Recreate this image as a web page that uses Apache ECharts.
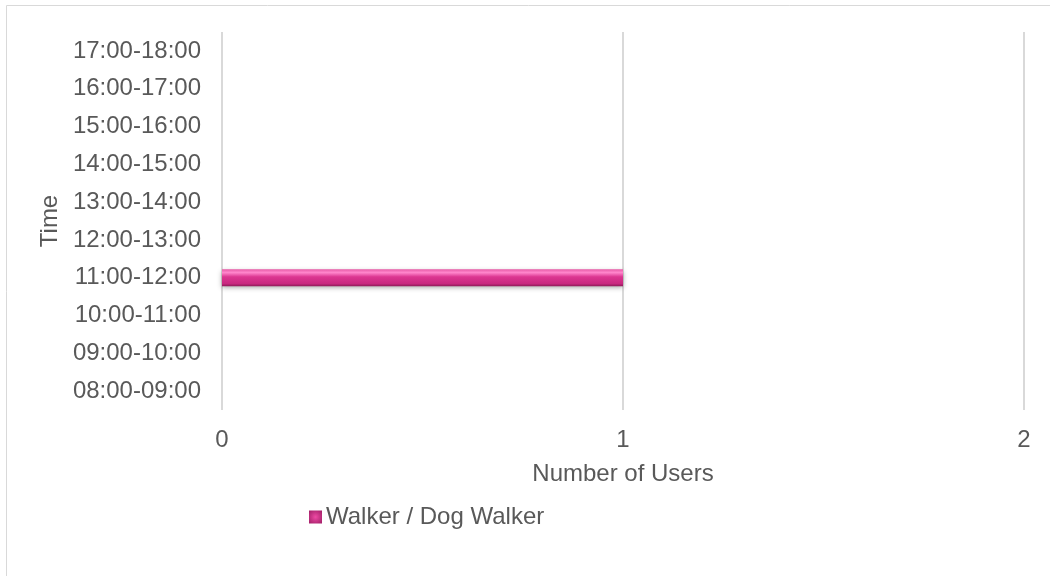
<!DOCTYPE html>
<html>
<head>
<meta charset="utf-8">
<script src="https://cdn.jsdelivr.net/npm/echarts@6/dist/echarts.min.js"></script>
<style>html,body{margin:0;padding:0;background:#fff}#c{width:1050px;height:576px}</style>
</head>
<body>
<div id="c"></div>
<script>
const categories = ['08:00-09:00','09:00-10:00','10:00-11:00','11:00-12:00','12:00-13:00','13:00-14:00','14:00-15:00','15:00-16:00','16:00-17:00','17:00-18:00'];
const seriesName = 'Walker / Dog Walker';
const values = [0, 0, 0, 1, 0, 0, 0, 0, 0, 0];
const xTicks = [0, 1, 2];

const chart = echarts.init(document.getElementById('c'));
const font = 'Arial, "Liberation Sans", sans-serif';
const barGrad = new echarts.graphic.LinearGradient(0, 0, 0, 1, [
  {offset: 0, color: '#e85aa6'},
  {offset: 0.2, color: '#ff86cc'},
  {offset: 0.45, color: '#dc3691'},
  {offset: 0.85, color: '#c8287f'},
  {offset: 1, color: '#8e1a58'}
]);
const iconGrad = new echarts.graphic.RadialGradient(0.5, 0.5, 0.7, [
  {offset: 0, color: '#ee4aa4'},
  {offset: 1, color: '#a01e66'}
]);
chart.setOption({
  animation: false,
  textStyle: {fontFamily: font},
  graphic: [{
    type: 'rect', left: 4, top: 3, silent: true,
    shape: {width: 1100, height: 640},
    style: {fill: 'none', stroke: '#d9d9d9', lineWidth: 1}
  }],
  grid: {left: 222, right: 26, top: 32, bottom: 166},
  legend: {
    left: 309, top: 505, padding: 0, itemWidth: 13, itemHeight: 13, itemGap: 4,
    icon: 'rect',
    textStyle: {color: '#595959', fontSize: 24, fontFamily: font, padding: [0, 0, 0, -1]},
    data: [{name: seriesName, itemStyle: {color: iconGrad}}]
  },
  xAxis: {
    type: 'value', min: xTicks[0], max: xTicks[xTicks.length - 1], interval: 1,
    name: 'Number of Users', nameLocation: 'middle', nameGap: 52,
    nameTextStyle: {color: '#595959', fontSize: 24, fontFamily: font},
    axisLine: {show: false}, axisTick: {show: false},
    axisLabel: {color: '#595959', fontSize: 24, margin: 18, fontFamily: font},
    splitLine: {show: true, lineStyle: {color: '#d9d9d9', width: 2}}
  },
  yAxis: {
    type: 'category', data: categories,
    name: 'Time', nameLocation: 'middle', nameGap: 155, nameRotate: 90,
    nameTextStyle: {color: '#595959', fontSize: 24, fontFamily: font},
    axisLine: {show: false}, axisTick: {show: false},
    axisLabel: {color: '#595959', fontSize: 24, margin: 21, fontFamily: font},
    splitLine: {show: false}
  },
  series: [{
    name: seriesName, type: 'bar', data: values,
    barWidth: 17,
    itemStyle: {
      color: barGrad,
      borderWidth: 0,
      shadowColor: 'rgba(0,0,0,0.35)', shadowBlur: 5, shadowOffsetY: 2
    }
  }]
});
</script>
</body>
</html>
